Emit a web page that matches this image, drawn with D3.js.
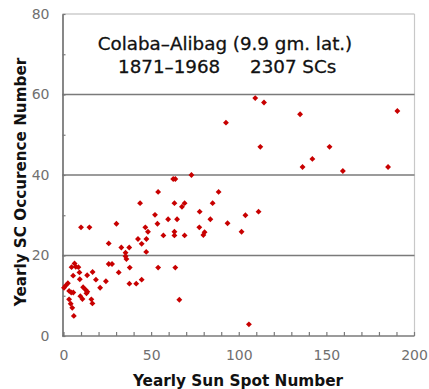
<!DOCTYPE html>
<html>
<head>
<meta charset="utf-8">
<script src="https://cdn.jsdelivr.net/npm/d3@7"></script>
<style>
  html, body { margin: 0; padding: 0; background: #fff; }
  svg { display: block; }
</style>
</head>
<body>
<svg id="chart" width="429" height="389"></svg>
<script>
// Yearly sunspot number vs. yearly SC occurrence number, Colaba–Alibag 1871–1968
const sunspotNumber = [
  109.4, 114.4, 92.7, 112.3, 135.0, 190.5, 151.8, 142.0, 136.4, 159.4,
  185.2, 88.5, 111.3, 103.8, 93.6, 101.6, 105.8, 54.0, 62.6, 63.8,
  73.0, 43.7, 63.3, 69.1, 67.6, 85.1, 52.2, 59.7, 64.8, 77.7,
  83.8, 53.6, 30.2, 77.5, 80.5, 79.8, 46.7, 48.2, 10.0, 14.8,
  57.0, 63.3, 63.3, 69.1, 42.5, 44.6, 47.3, 25.8, 33.0, 37.5,
  35.4, 35.4, 35.9, 47.2, 25.8, 27.7, 31.5, 37.8, 54.0, 63.8,
  24.2, 20.9, 37.6, 41.5, 44.6, 66.1, 18.5, 16.6, 13.5, 6.3,
  4.6, 8.5, 9.1, 5.5, 9.3, 1.2, 0.3, 2.5, 3.2, 4.4,
  5.6, 11.2, 12.6, 13.6, 13.1, 9.6, 10.8, 15.9, 16.5, 3.2,
  4.1, 5.0, 5.9, 7.0
];
const scOccurrence = [
  59.1, 58.0, 53.0, 47.0, 55.1, 55.9, 47.0, 44.0, 42.0, 41.0,
  42.0, 35.8, 30.9, 30.0, 28.0, 25.9, 2.9, 35.8, 39.0, 39.0,
  40.0, 33.0, 33.0, 33.0, 32.1, 33.0, 30.1, 29.0, 29.0, 30.9,
  29.0, 27.9, 27.9, 27.0, 25.8, 25.1, 27.0, 25.9, 27.0, 27.0,
  25.0, 25.9, 25.0, 25.0, 24.1, 22.9, 24.1, 23.0, 22.0, 22.0,
  20.7, 19.8, 19.1, 20.9, 17.9, 17.9, 15.8, 17.0, 17.0, 17.0,
  13.6, 12.0, 13.0, 13.0, 14.0, 9.0, 14.0, 15.9, 15.1, 18.0,
  17.1, 17.1, 15.8, 15.0, 14.1, 12.5, 12.0, 13.1, 11.2, 10.8,
  10.8, 12.1, 11.5, 11.0, 10.6, 9.9, 9.2, 9.1, 8.1, 9.1,
  8.0, 7.0, 5.0, 17.2
];
const xTicks = [0, 10, 20, 30, 40, 50, 60, 70, 80, 90, 100, 110, 120, 130, 140, 150, 160, 170, 180, 190, 200];
const xTickLabels = [0, 50, 100, 150, 200];
const yTicks = [0, 10, 20, 30, 40, 50, 60, 70, 80];
const yTickLabels = [0, 20, 40, 60, 80];
const gridValues = [20, 40, 60];
const titleLines = ["Colaba–Alibag (9.9 gm. lat.)", "1871–1968", "2307 SCs"];
const xTitle = "Yearly Sun Spot Number";
const yTitle = "Yearly SC Occurence Number";

const svg = d3.select("#chart");
const plotLeft = 62.5, plotRight = 414.5, plotTop = 14, plotBottom = 336;
const font = "'DejaVu Sans', 'Liberation Sans', Arial, sans-serif";

const x = d3.scaleLinear().domain([0, 200]).range([63.5, 414]);
const y = d3.scaleLinear().domain([0, 80]).range([plotBottom, plotTop]);

// frame: top and right border
svg.append("line").attr("x1", plotLeft).attr("x2", plotRight).attr("y1", plotTop).attr("y2", plotTop)
  .attr("stroke", "#b4b4b4").attr("stroke-width", 1.2);
svg.append("line").attr("x1", plotRight).attr("x2", plotRight).attr("y1", plotTop).attr("y2", plotBottom)
  .attr("stroke", "#c8c8c8").attr("stroke-width", 1.2);

// horizontal gridlines
svg.append("g").selectAll("line").data(gridValues).join("line")
  .attr("x1", plotLeft).attr("x2", plotRight)
  .attr("y1", d => y(d)).attr("y2", d => y(d))
  .attr("stroke", "#7a7a7a").attr("stroke-width", 1.6);

// x axis with inward ticks
const xAxis = d3.axisBottom(x).tickValues(xTicks).tickSizeInner(-4).tickSizeOuter(0).tickPadding(14)
  .tickFormat(d => xTickLabels.includes(d) ? d : "");
const gx = svg.append("g").attr("transform", `translate(0,${plotBottom})`).call(xAxis);
gx.select(".domain").attr("d", `M${plotLeft},0H${plotRight}`).attr("stroke", "#7a7a7a").attr("stroke-width", 1.6);
gx.selectAll(".tick line").attr("stroke", "#7a7a7a").attr("stroke-width", 1.2);
gx.selectAll(".tick text").attr("fill", "#707070").attr("font-size", 14).attr("font-family", font);

// y axis with inward ticks
const yAxis = d3.axisLeft(y).tickValues(yTicks).tickSizeInner(-3).tickSizeOuter(0).tickPadding(13)
  .tickFormat(d => yTickLabels.includes(d) ? d : "");
const gy = svg.append("g").attr("transform", `translate(${plotLeft},0)`).call(yAxis);
gy.select(".domain").attr("stroke", "#6a6a6a").attr("stroke-width", 1.6);
gy.selectAll(".tick line").attr("stroke", "#7a7a7a").attr("stroke-width", 1.2);
gy.selectAll(".tick text").attr("fill", "#707070").attr("font-size", 14).attr("font-family", font);

// data points
const points = sunspotNumber.map((s, i) => ({ s, c: scOccurrence[i] }));
svg.append("g").selectAll("path").data(points).join("path")
  .attr("transform", d => `translate(${x(d.s)},${y(d.c)})`)
  .attr("d", d3.symbol().type(d3.symbolDiamond2).size(22))
  .attr("fill", "#c80000");

// title block
const titleStyle = sel => sel.attr("font-family", font).attr("font-size", 18.3)
  .attr("fill", "#111").attr("stroke", "#111").attr("stroke-width", 0.3);
svg.append("text").attr("x", 225).attr("y", 50).attr("text-anchor", "middle")
  .call(titleStyle).text(titleLines[0]);
svg.append("text").attr("x", 118).attr("y", 73).call(titleStyle).text(titleLines[1]);
svg.append("text").attr("x", 250).attr("y", 73).call(titleStyle).text(titleLines[2]);

// axis titles
svg.append("text").attr("x", 238).attr("y", 386).attr("text-anchor", "middle")
  .attr("font-family", font).attr("font-weight", "bold").attr("font-size", 15.3).attr("fill", "#111")
  .text(xTitle);
svg.append("text").attr("transform", "translate(26,182) rotate(-90)").attr("text-anchor", "middle")
  .attr("font-family", font).attr("font-weight", "bold").attr("font-size", 15.2).attr("fill", "#111")
  .text(yTitle);
</script>
</body>
</html>
